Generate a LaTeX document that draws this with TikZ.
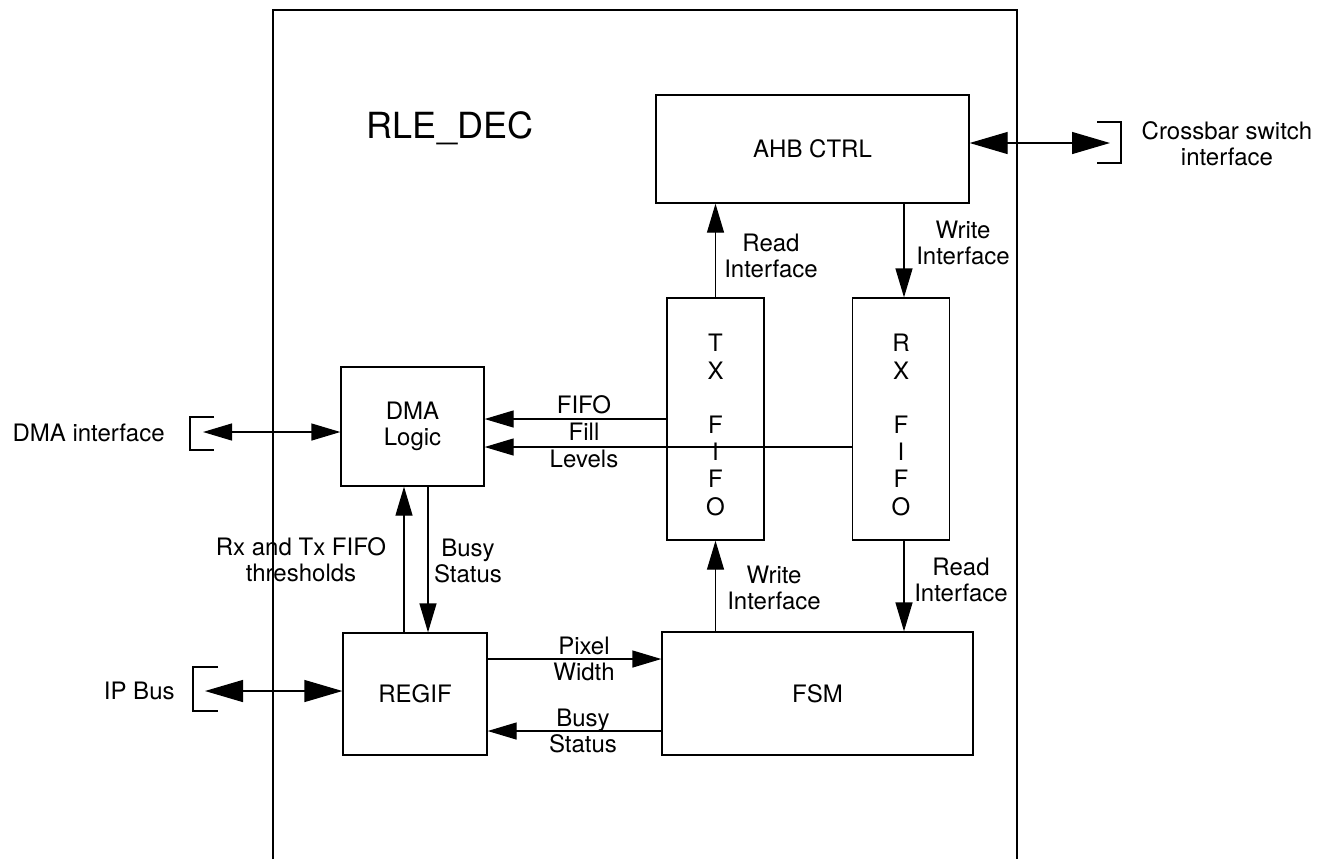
\documentclass[tikz,border=0pt]{standalone}
\usepackage{fontspec}
\setmainfont{TeX Gyre Heros}
\usetikzlibrary{arrows.meta, positioning}

\begin{document}
\begin{tikzpicture}[x=0.5pt, y=-0.5pt,
  blk/.style={rectangle, draw, line width=0.65pt, inner sep=0pt, align=center,
              font=\fontsize{12}{13}\selectfont},
  fifo/.style={blk, minimum width=48.5pt, minimum height=121pt},
  fifotxt/.style={align=center, inner sep=0pt, font=\fontsize{12}{13.6}\selectfont},
  arrow/.style={-{Triangle[length=14.5pt,width=8.5pt]}, line width=0.65pt},
  dblarrow/.style={{Triangle[length=14.5pt,width=8.5pt]}-{Triangle[length=14.5pt,width=8.5pt]}, line width=0.65pt},
  bigarrow/.style={{Triangle[length=19pt,width=11pt]}-{Triangle[length=19pt,width=11pt]}, line width=0.65pt},
  lbl/.style={align=center, inner sep=0pt, font=\fontsize{12}{13}\selectfont},
  brk/.style={line width=0.6pt}
]
\useasboundingbox (0,0) rectangle (1317,859);

% decoder block (open at the bottom)
\draw[line width=1.2pt] (273,859) -- (273,10) -- (1017,10) -- (1017,859);
\node[lbl, font=\fontsize{18}{20}\selectfont] (title) at (450,128) {RLE\_DEC};

% blocks
\node[blk, minimum width=156.5pt, minimum height=54pt] (ahb) at (812.5,149) {AHB CTRL};
\node[fifo] (tx) at (715.5,419) {};
\node[fifo] (rx) at (901,419) {};
\node[fifotxt] (txtxt) at ([yshift=-3pt]tx.center) {T\\X\\\mbox{}\\F\\I\\F\\O};
\node[fifotxt] (rxtxt) at ([yshift=-3pt]rx.center) {R\\X\\\mbox{}\\F\\I\\F\\O};
\node[blk, minimum width=71.5pt, minimum height=59.5pt] (dma) at (412.5,426.5) {DMA\\Logic};
\node[blk, minimum width=72pt, minimum height=61pt] (regif) at (415,694) {REGIF};
\node[blk, minimum width=155.5pt, minimum height=61.5pt] (fsm) at (817.5,693.5) {FSM};

% outside interfaces
\coordinate (xbar) at (1110,143);
\coordinate (dmaif) at (203,432);
\coordinate (ipbus) at (205,691);
\draw[brk] (1097,122) -- (1121,122) -- (1121,163) -- (1097,163);
\draw[brk] (214,417) -- (190,417) -- (190,450) -- (214,450);
\draw[brk] (218,667) -- (193,667) -- (193,711) -- (218,711);
\node[lbl] (xbarlbl) at (1227,144) {Crossbar switch\\interface};
\node[lbl, anchor=east] (dmaiflbl) at (165,433) {DMA interface};
\node[lbl, anchor=east] (ipbuslbl) at (175,691) {IP Bus};

\draw[bigarrow] (ahb.east |- xbar) -- (xbar);
\draw[dblarrow] (dmaif) -- (dmaif -| dma.west);
\draw[bigarrow] (ipbus) -- (ipbus -| regif.west);

% FIFO interfaces
\draw[arrow] (tx.north) -- (tx.north |- ahb.south);
\draw[arrow] ([xshift=1.5pt]rx.north |- ahb.south) -- ([xshift=1.5pt]rx.north);
\draw[arrow] (tx.south |- fsm.north) -- (tx.south);
\draw[arrow] ([xshift=1.5pt]rx.south) -- ([xshift=1.5pt]rx.south |- fsm.north);
\node[lbl] (rdtop) at (771,256) {Read\\Interface};
\node[lbl] (wrtop) at (963,243) {Write\\Interface};
\node[lbl] (wrbot) at (774,588) {Write\\Interface};
\node[lbl] (rdbot) at (961,580) {Read\\Interface};

% fill levels
\draw[arrow] (tx.west) -- (tx.west -| dma.east);
\draw[arrow] ([yshift=-14pt]rx.west) -- ([yshift=-14pt]rx.west -| dma.east);
\node[lbl, font=\fontsize{12}{13.5}\selectfont] (fill) at (584,432) {FIFO\\Fill\\Levels};

% DMA <-> REGIF
\draw[arrow] ([xshift=-5.5pt]regif.north) -- ([xshift=-5.5pt]regif.north |- dma.south);
\draw[arrow] ([xshift=6.5pt]regif.north |- dma.south) -- ([xshift=6.5pt]regif.north);
\node[lbl] (thr) at (301,560) {Rx and Tx FIFO\\thresholds};
\node[lbl] (busy1) at (468,561) {Busy\\Status};

% REGIF <-> FSM
\draw[arrow] ([yshift=17.5pt]regif.east) -- ([yshift=17.5pt]regif.east -| fsm.west);
\draw[arrow] ([yshift=-18.75pt]fsm.west) -- ([yshift=-18.75pt]fsm.west -| regif.east);
\node[lbl] (pix) at (584,659) {Pixel\\Width};
\node[lbl] (busy2) at (583,731) {Busy\\Status};
\end{tikzpicture}
\end{document}
